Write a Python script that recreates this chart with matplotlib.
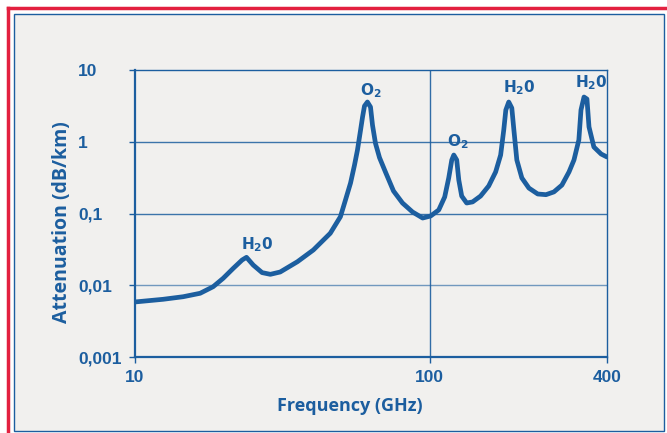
import numpy as np
import matplotlib
matplotlib.use('Agg')
import matplotlib.pyplot as plt
from matplotlib.patches import Rectangle
from matplotlib.lines import Line2D

plt.rcParams['mathtext.fontset'] = 'dejavusans'

# frequency (GHz) / attenuation (dB/km)
freq = [10.0, 12.45, 14.57, 16.64, 18.42, 19.92, 21.55, 23.1, 23.9, 25.2,
        27.0, 28.8, 31.1, 35.6, 40.3, 46.0, 49.8, 51.8, 53.9,
        55.6, 56.9, 58.3, 59.2, 60.1, 61.5, 63.0, 64.0, 65.5, 67.6, 70.8,
        75.4, 80.9, 87.5, 94.7, 100.8, 107.4, 112.5, 116.1, 118.9, 120.8,
        123.6, 125.6, 128.5, 133.6, 139.9, 148.9, 158.7, 167.5, 174.2, 178.5,
        181.4, 185.6, 190.1, 193.2, 197.7, 205.6, 217.3, 232.8, 248.3, 264.2,
        281.2, 297.2, 309.0, 321.0, 326.4, 334.2, 342.0, 347.5, 361.0, 382.0,
        400.0]
atten = [0.00585, 0.00637, 0.00692, 0.00773, 0.00955, 0.0125, 0.0172, 0.0225, 0.0245, 0.0191,
         0.0150, 0.0142, 0.0153, 0.0213, 0.0310, 0.0530, 0.0902, 0.154, 0.266,
         0.474, 0.767, 1.46, 2.21, 3.15, 3.58, 3.05, 1.7, 0.95, 0.6, 0.379,
         0.206, 0.140, 0.105, 0.0865, 0.0923, 0.112, 0.170, 0.313, 0.557, 0.653,
         0.557, 0.293, 0.175, 0.140, 0.145, 0.175, 0.242, 0.379, 0.653, 1.46,
         2.77, 3.58, 2.95, 1.46, 0.557, 0.313, 0.226, 0.187, 0.183, 0.200,
         0.249, 0.379, 0.557, 1.06, 2.77, 4.2, 3.94, 1.61, 0.845, 0.675,
         0.613]

# absorption line labels
line_labels = [r'$\mathbf{H_{2}0}$', r'$\mathbf{O_{2}}$', r'$\mathbf{O_{2}}$',
               r'$\mathbf{H_{2}0}$', r'$\mathbf{H_{2}0}$']
label_freq = [26.0, 63.0, 124.5, 201.0, 354.0]
label_att = [0.0364, 5.2, 1.0, 5.6, 6.6]

xticks = [10, 100, 400]
xticklabels = ['10', '100', '400']
yticks = [0.001, 0.01, 0.1, 1, 10]
yticklabels = ['0,001', '0,01', '0,1', '1', '10']

blue = '#1c5e9f'
bg = '#f1f0ee'

fig = plt.figure(figsize=(6.67, 4.33), dpi=100, facecolor='white')

# frame: grey panel with thin blue border, red line left/top
fig.patches.append(Rectangle((14 / 667, 1 - 431 / 433), (664 - 14) / 667, (431 - 14) / 433,
                             transform=fig.transFigure, facecolor=bg,
                             edgecolor=blue, linewidth=1.0, zorder=-10))
fig.add_artist(Line2D([8 / 667, 8 / 667], [0, 1 - 8 / 433], transform=fig.transFigure,
                      color='#e3203f', linewidth=2.5))
fig.add_artist(Line2D([8 / 667, 1], [1 - 8 / 433, 1 - 8 / 433], transform=fig.transFigure,
                      color='#e3203f', linewidth=2.5))

ax = fig.add_axes([135 / 667, 1 - 357 / 433, (607 - 135) / 667, (357 - 70) / 433])
ax.set_zorder(1)
ax.set_facecolor('none')
ax.set_xscale('log')
ax.set_yscale('log')
ax.set_xlim(10, 400)
ax.set_ylim(0.001, 10)

# grid
for yv in [0.01, 0.1, 1]:
    ax.axhline(yv, color=blue, linewidth=1.0, alpha=0.85 if yv > 0.01 else 0.6, zorder=1)
ax.axvline(100, color=blue, linewidth=1.0, alpha=0.9, zorder=1)

ax.plot(freq, atten, color=blue, linewidth=3.4, solid_joinstyle='round',
        solid_capstyle='round', zorder=3)

for lab, fx, fy in zip(line_labels, label_freq, label_att):
    ax.text(fx, fy, lab, ha='center', va='center', color=blue, fontsize=11,
            zorder=4)

for side in ['left', 'bottom']:
    ax.spines[side].set_color(blue)
    ax.spines[side].set_linewidth(1.6)
for side in ['top', 'right']:
    ax.spines[side].set_color(blue)
    ax.spines[side].set_linewidth(1.0)

ax.set_xticks(xticks)
ax.set_xticklabels(xticklabels)
ax.set_yticks(yticks)
ax.set_yticklabels(yticklabels)
ax.minorticks_off()
ax.tick_params(axis='both', colors=blue, length=4, width=1.0, labelsize=12.5)
ax.tick_params(axis='x', pad=5)
ax.tick_params(axis='y', pad=37)
for t in ax.get_yticklabels():
    t.set_ha('left')
for t in ax.get_xticklabels() + ax.get_yticklabels():
    t.set_fontweight('bold')
    t.set_family('Liberation Sans')
    t.set_color(blue)

fig.text(350 / 667, 1 - 406 / 433, 'Frequency (GHz)', ha='center', va='center',
         color=blue, fontsize=13, fontweight='bold', family='Open Sans')
fig.text(62 / 667, 1 - 222 / 433, 'Attenuation (dB/km)', ha='center', va='center',
         rotation=90, color=blue, fontsize=14, fontweight='bold', family='Open Sans')

fig.savefig('out.png', dpi=100, facecolor='white')
